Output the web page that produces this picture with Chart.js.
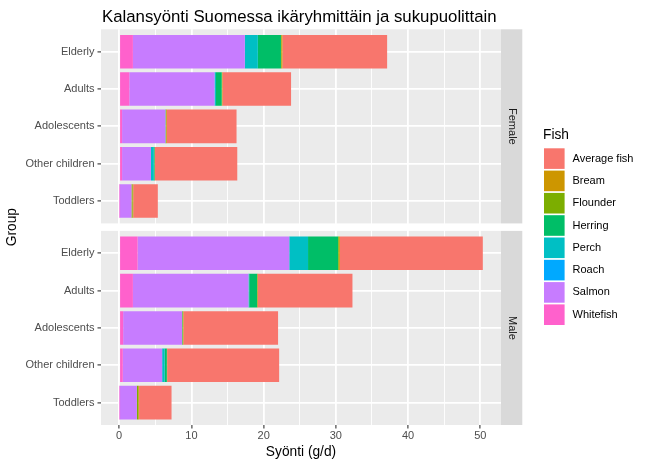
<!DOCTYPE html>
<html>
<head>
<meta charset="utf-8">
<script src="https://cdn.jsdelivr.net/npm/chart.js@4.4.1/dist/chart.umd.min.js"></script>
<style>
html, body { margin: 0; padding: 0; background: #fff; }
</style>
</head>
<body>
<canvas id="fish-chart" width="650" height="465"></canvas>
<script>
const groups = ["Toddlers", "Other children", "Adolescents", "Adults", "Elderly"];
const panels = ["Female", "Male"];
const fishNames = ["Average fish", "Bream", "Flounder", "Herring", "Perch", "Roach", "Salmon", "Whitefish"];
const fishColors = ["#F8766D", "#CD9600", "#7CAE00", "#00BE67", "#00BFC4", "#00A9FF", "#C77CFF", "#FF61CC"];
const xTicks = [0, 10, 20, 30, 40, 50];

// g/d, same order as groups
const female = {
  "Average fish": [3.4, 11.4, 9.65, 9.5, 14.5],
  "Bream":        [0.1, 0.05, 0.1, 0.1, 0.15],
  "Flounder":     [0.15, 0, 0.05, 0, 0.05],
  "Herring":      [0, 0.1, 0.05, 0.8, 3.2],
  "Perch":        [0, 0.4, 0, 0.2, 1.8],
  "Roach":        [0, 0, 0, 0, 0],
  "Salmon":       [1.65, 4.0, 6.0, 11.8, 15.5],
  "Whitefish":    [0.05, 0.4, 0.4, 1.4, 1.9]
};
const male = {
  "Average fish": [4.5, 15.5, 13.1, 13.1, 19.8],
  "Bream":        [0.1, 0.05, 0.1, 0.1, 0.15],
  "Flounder":     [0.2, 0, 0.05, 0, 0.1],
  "Herring":      [0, 0.3, 0.05, 1.1, 4.15],
  "Perch":        [0, 0.35, 0, 0.1, 2.6],
  "Roach":        [0, 0, 0, 0, 0],
  "Salmon":       [2.4, 5.45, 8.15, 16.0, 21.0],
  "Whitefish":    [0.05, 0.5, 0.55, 1.9, 2.55]
};

// facet layout on one linear y scale (ggplot discrete expansion 0.6, panel gap 0.2)
const panelData = { Female: female, Male: male };
const panelStart = { Male: 0, Female: 5.4 };
const panelRange = { Male: [-0.6, 4.6], Female: [4.8, 10.0] };

const yTickValues = [];
const yTickLabels = [];
panels.forEach(p => groups.forEach((g, i) => { yTickValues.push(panelStart[p] + i); yTickLabels.push(g); }));

let maxTotal = 0;
panels.forEach(p => groups.forEach((g, i) => {
  let s = 0;
  fishNames.forEach(f => s += panelData[p][f][i]);
  maxTotal = Math.max(maxTotal, s);
}));
const xMin = -0.05 * maxTotal, xMax = maxTotal * 1.05;
const xAll = [];
xTicks.forEach((t, i) => { xAll.push(t); if (i < xTicks.length - 1) xAll.push((t + xTicks[i + 1]) / 2); });

// ggplot stacks first level on the outside, so draw in reverse
const datasets = fishNames.slice().reverse().map(name => {
  const pts = [];
  panels.forEach(p => groups.forEach((g, i) => pts.push({ x: panelData[p][name][i], y: panelStart[p] + i })));
  return {
    label: name,
    data: pts,
    backgroundColor: fishColors[fishNames.indexOf(name)],
    borderWidth: 0,
    categoryPercentage: 0.9,
    barPercentage: 1.0
  };
});

const FONT = "'Liberation Sans', Arial, sans-serif";

const facetPlugin = {
  id: 'facets',
  beforeDraw(chart) {
    const { ctx, chartArea: a } = chart;
    ctx.save();
    ctx.fillStyle = '#EBEBEB';
    ctx.fillRect(a.left, a.top, a.right - a.left, a.bottom - a.top);
    ctx.restore();
  },
  beforeDatasetsDraw(chart) {
    const { ctx, chartArea: a, scales: { y } } = chart;
    const g1 = y.getPixelForValue(panelRange.Male[1]);
    const g2 = y.getPixelForValue(panelRange.Female[0]);
    ctx.save();
    ctx.fillStyle = '#ffffff';
    ctx.fillRect(a.left, g2, a.right - a.left, g1 - g2);
    ctx.restore();
  },
  afterDraw(chart) {
    const { ctx, chartArea: a, scales: { y } } = chart;
    ctx.save();
    // strips
    const stripW = 21.3;
    panels.forEach(p => {
      const top = y.getPixelForValue(panelRange[p][1]);
      const bottom = y.getPixelForValue(panelRange[p][0]);
      ctx.fillStyle = '#D9D9D9';
      ctx.fillRect(a.right, top, stripW, bottom - top);
      ctx.save();
      ctx.translate(a.right + stripW / 2, (top + bottom) / 2);
      ctx.rotate(Math.PI / 2);
      ctx.fillStyle = '#1A1A1A';
      ctx.font = '11px ' + FONT;
      ctx.textAlign = 'center';
      ctx.textBaseline = 'middle';
      ctx.fillText(p, 0, 0);
      ctx.restore();
    });
    // title
    ctx.fillStyle = '#000';
    ctx.font = '16.8px ' + FONT;
    ctx.textAlign = 'left';
    ctx.textBaseline = 'alphabetic';
    ctx.fillText('Kalansyönti Suomessa ikäryhmittäin ja sukupuolittain', a.left + 1, 22);
    // legend
    const lx = 544, ly = 148.3, key = 20.6, step = 22.3;
    ctx.font = '13.75px ' + FONT;
    ctx.textBaseline = 'middle';
    ctx.fillText('Fish', lx - 1, 135);
    ctx.font = '11px ' + FONT;
    fishNames.forEach((f, i) => {
      ctx.fillStyle = fishColors[i];
      ctx.fillRect(lx, ly + i * step, key, key);
      ctx.fillStyle = '#000';
      ctx.fillText(f, 572.5, ly + i * step + key / 2);
    });
    ctx.restore();
  }
};

new Chart(document.getElementById('fish-chart'), {
  type: 'bar',
  data: { datasets: datasets },
  options: {
    indexAxis: 'y',
    responsive: false,
    animation: false,
    devicePixelRatio: 1,
    layout: { padding: { top: 29.3, right: 149, left: 0, bottom: 0 } },
    plugins: { legend: { display: false }, tooltip: { enabled: false }, title: { display: false } },
    scales: {
      x: {
        type: 'linear',
        stacked: true,
        min: xMin,
        max: xMax,
        afterBuildTicks: s => { s.ticks = xAll.map(v => ({ value: v })); },
        afterFit: s => { s.height = 40; },
        border: { display: false },
        grid: {
          color: '#ffffff',
          lineWidth: c => xTicks.includes(c.tick.value) ? 1.8 : 0.9,
          tickColor: c => xTicks.includes(c.tick.value) ? '#333333' : 'rgba(0,0,0,0)',
          tickWidth: 1.1,
          tickLength: 3.5
        },
        ticks: {
          autoSkip: false,
          maxRotation: 0,
          padding: 1,
          color: '#4D4D4D',
          font: { family: FONT, size: 11 },
          callback: v => xTicks.includes(v) ? String(v) : ''
        },
        title: {
          display: true,
          text: 'Syönti (g/d)',
          color: '#000',
          font: { family: FONT, size: 13.75 },
          padding: { top: 0, bottom: 5 }
        }
      },
      y: {
        type: 'linear',
        stacked: true,
        offset: false,
        min: panelRange.Male[0],
        max: panelRange.Female[1],
        afterBuildTicks: s => { s.ticks = yTickValues.map(v => ({ value: v })); },
        afterFit: s => { s.width = 101; },
        border: { display: false },
        grid: {
          offset: false,
          color: '#ffffff',
          lineWidth: 1.8,
          tickColor: '#333333',
          tickWidth: 1.1,
          tickLength: 3.5
        },
        ticks: {
          autoSkip: false,
          padding: 3,
          color: '#4D4D4D',
          font: { family: FONT, size: 11 },
          callback: (v, i) => yTickLabels[i]
        },
        title: {
          display: true,
          text: 'Group',
          color: '#000',
          font: { family: FONT, size: 13.75 },
          padding: { top: 4, bottom: 0 }
        }
      }
    }
  },
  plugins: [facetPlugin]
});
</script>
</body>
</html>
